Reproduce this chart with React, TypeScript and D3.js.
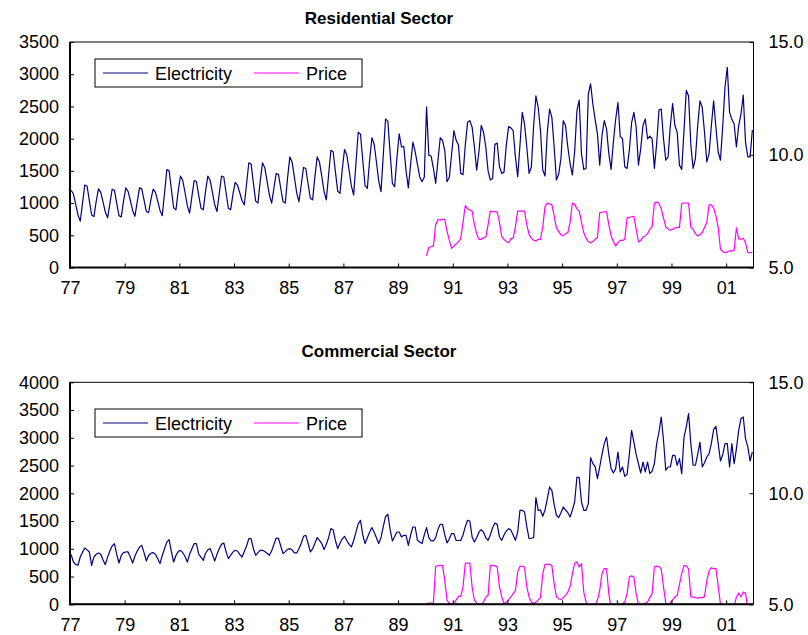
import React, { useEffect, useRef } from "react";
import * as d3 from "d3";

// x axis: monthly categories Jan 1977 .. Dec 2001, labelled every 2 years
const tickLabels = ["77", "79", "81", "83", "85", "87", "89", "91", "93", "95", "97", "99", "01"];
const resLeftTicks = [0, 500, 1000, 1500, 2000, 2500, 3000, 3500];
const comLeftTicks = [0, 500, 1000, 1500, 2000, 2500, 3000, 3500, 4000];
const priceTicks = [5, 10, 15];
const seriesNames = ["Electricity", "Price"];

// Residential electricity, Jan..Dec per row, 1977-2001
const resElectricity = [
    1200, 1140, 985, 815, 720, 1000, 1280, 1265, 1035, 815, 790, 1025, // 77
    1220, 1165, 1020, 860, 770, 990, 1215, 1200, 1000, 805, 785, 1030, // 78
    1235, 1180, 1040, 885, 795, 1015, 1236, 1220, 1045, 870, 850, 1050, // 79
    1215, 1165, 1030, 885, 805, 1160, 1520, 1500, 1210, 925, 895, 1185, // 80
    1420, 1350, 1160, 960, 845, 1100, 1350, 1335, 1120, 920, 895, 1185, // 81
    1420, 1355, 1170, 980, 870, 1145, 1420, 1405, 1160, 920, 895, 1130, // 82
    1320, 1280, 1160, 1040, 970, 1300, 1625, 1605, 1310, 1030, 1000, 1345, // 83
    1625, 1550, 1340, 1125, 1000, 1230, 1460, 1445, 1230, 1025, 1000, 1395, // 84
    1717, 1635, 1400, 1160, 1020, 1285, 1553, 1537, 1300, 1075, 1050, 1415, // 85
    1717, 1637, 1417, 1183, 1050, 1435, 1820, 1797, 1485, 1185, 1150, 1525, // 86
    1830, 1745, 1513, 1266, 1125, 1612, 2100, 2070, 1664, 1272, 1228, 1660, // 87
    2014, 1914, 1637, 1344, 1177, 1741, 2306, 2272, 1780, 1305, 1253, 1706, // 88
    2076, 1870, 1880, 1500, 1235, 1600, 1946, 1800, 1600, 1405, 1332, 1400, // 89
    2494, 1740, 1730, 1540, 1307, 1660, 2014, 1973, 1819, 1332, 1400, 1760, // 90
    2126, 1973, 1900, 1461, 1440, 1900, 2253, 2279, 2177, 1870, 1512, 1800, // 91
    2203, 2100, 1870, 1500, 1358, 1380, 1911, 1932, 1563, 1461, 1480, 1900, // 92
    2187, 2167, 2126, 1717, 1409, 1900, 2407, 2228, 1870, 1461, 1560, 2200, // 93
    2663, 2484, 2126, 1512, 1420, 2100, 2459, 2330, 1870, 1358, 1450, 1700, // 94
    2279, 2203, 1870, 1614, 1435, 1800, 2433, 2597, 1768, 1523, 1537, 2689, // 95
    2852, 2536, 2300, 2075, 1589, 2049, 2279, 2152, 1768, 1523, 1947, 2300, // 96
    2561, 2034, 1998, 1563, 1537, 1819, 2250, 2407, 2177, 1589, 1845, 2203, // 97
    2305, 1998, 2040, 1998, 1538, 1922, 2443, 2459, 2000, 1665, 1717, 2200, // 98
    2545, 2203, 2100, 1589, 1523, 2126, 2750, 2663, 1900, 1538, 1691, 2200, // 99
    2587, 2484, 2100, 1640, 1768, 2200, 2587, 2177, 1793, 1665, 2200, 2801, // 00
    3108, 2407, 2300, 2228, 1870, 2203, 2382, 2674, 1947, 1717, 1717, 2136, // 01
];

// Residential price, Jan 1990 .. Dec 2001
const resPrice = [
    5.52, 5.89, 5.92, 5.96, 6.9, 7.13, 7.1, 7.15, 7.12, 6.6, 6.2, 5.85, // 90
    5.95, 6.05, 6.15, 6.28, 7.0, 7.74, 7.6, 7.55, 7.5, 6.9, 6.5, 6.25, // 91
    6.25, 6.33, 6.35, 6.9, 7.5, 7.48, 7.48, 7.47, 7.0, 6.37, 6.25, 6.15, // 92
    6.1, 6.28, 6.3, 6.8, 7.5, 7.5, 7.5, 7.5, 6.9, 6.47, 6.3, 6.2, // 93
    6.18, 6.25, 6.25, 6.8, 7.7, 7.86, 7.82, 7.79, 7.3, 6.76, 6.6, 6.45, // 94
    6.4, 6.5, 6.55, 7.0, 7.86, 7.8, 7.6, 7.5, 7.0, 6.55, 6.3, 6.15, // 95
    6.1, 6.15, 6.25, 6.33, 7.43, 7.45, 7.47, 7.47, 6.9, 6.4, 6.15, 5.96, // 96
    6.1, 6.2, 6.2, 6.25, 7.2, 7.22, 7.25, 7.27, 6.7, 6.13, 6.2, 6.35, // 97
    6.4, 6.5, 6.7, 6.8, 7.86, 7.9, 7.85, 7.6, 7.2, 6.8, 6.7, 6.65, // 98
    6.7, 6.75, 6.78, 6.78, 7.83, 7.86, 7.86, 7.86, 6.78, 6.7, 6.5, 6.4, // 99
    6.45, 6.55, 6.78, 7.0, 7.78, 7.78, 7.63, 7.3, 6.78, 5.81, 5.7, 5.66, // 00
    5.7, 5.74, 5.74, 5.76, 6.76, 6.27, 6.25, 6.3, 6.1, 5.66, 5.66, 5.66, // 01
];

// Commercial electricity, Jan..Dec per row, 1977-2001
const comElectricity = [
    896, 762, 720, 703, 852, 940, 1015, 980, 943, 703, 852, 900, // 77
    925, 900, 800, 715, 850, 960, 1050, 1094, 900, 744, 880, 930, // 78
    943, 943, 850, 744, 870, 960, 1030, 1063, 930, 780, 880, 920, // 79
    932, 900, 820, 733, 880, 1000, 1120, 1166, 950, 762, 880, 950, // 80
    973, 930, 860, 762, 900, 1000, 1094, 1094, 900, 850, 793, 920, // 81
    980, 1004, 900, 780, 900, 1000, 1080, 1105, 950, 823, 880, 940, // 82
    973, 960, 900, 852, 950, 1050, 1184, 1184, 1000, 883, 930, 973, // 83
    973, 950, 920, 883, 960, 1080, 1195, 1190, 1050, 913, 950, 990, // 84
    1004, 980, 925, 925, 1000, 1100, 1225, 1243, 1100, 943, 1000, 1100, // 85
    1202, 1150, 1094, 985, 1080, 1200, 1364, 1340, 1150, 1004, 1100, 1180, // 86
    1225, 1150, 1080, 1033, 1150, 1300, 1450, 1514, 1250, 1094, 1200, 1300, // 87
    1382, 1300, 1200, 1094, 1200, 1400, 1580, 1622, 1350, 1141, 1220, 1303, // 88
    1303, 1213, 1243, 1243, 1063, 1250, 1393, 1393, 1153, 1123, 1094, 1250, // 89
    1382, 1201, 1141, 1141, 1200, 1350, 1442, 1442, 1250, 1105, 1180, 1274, // 90
    1274, 1150, 1150, 1150, 1250, 1400, 1514, 1500, 1213, 1123, 1200, 1300, // 91
    1346, 1300, 1200, 1153, 1250, 1380, 1465, 1440, 1213, 1153, 1250, 1320, // 92
    1364, 1340, 1250, 1153, 1300, 1694, 1694, 1663, 1400, 1184, 1190, 1201, // 93
    1923, 1694, 1700, 1586, 1700, 1900, 2114, 2054, 1800, 1604, 1562, 1650, // 94
    1753, 1700, 1650, 1573, 1700, 1843, 2294, 2282, 1843, 1694, 1694, 1814, // 95
    2643, 2535, 2480, 2264, 2474, 2700, 2895, 3014, 2700, 2445, 2366, 2445, // 96
    2744, 2384, 2474, 2306, 2343, 2700, 3135, 2924, 2700, 2535, 2366, 2564, // 97
    2384, 2564, 2355, 2400, 2535, 2895, 3100, 3375, 2955, 2415, 2474, 2474, // 98
    2685, 2685, 2505, 2625, 2355, 3014, 3200, 3435, 2895, 2505, 2505, 2700, // 99
    2924, 2474, 2550, 2654, 2714, 2900, 3147, 3207, 2900, 2582, 2700, 2895, // 00
    2895, 2474, 2895, 2535, 2800, 3135, 3345, 3375, 2985, 2835, 2582, 2744, // 01
];

// Commercial price, Jan 1990 .. Dec 2001 (values under 5 get clipped by the plot)
const comPrice = [
    5.03, 5.05, 5.05, 5.03, 6.71, 6.73, 6.75, 6.75, 6.08, 5.18, 5.03, 5.0, // 90
    5.05, 5.2, 5.36, 5.36, 5.78, 6.86, 6.85, 6.86, 5.78, 5.18, 5.05, 5.0, // 91
    5.0, 5.1, 5.33, 5.4, 6.76, 6.75, 6.73, 6.7, 5.78, 5.33, 5.03, 5.1, // 92
    5.2, 5.33, 5.48, 5.6, 6.46, 6.71, 6.71, 6.68, 5.78, 5.33, 5.1, 5.03, // 93
    5.1, 5.2, 5.3, 6.38, 6.8, 6.8, 6.8, 6.75, 5.93, 5.33, 5.25, 5.21, // 94
    5.3, 5.4, 5.55, 5.8, 6.38, 6.86, 6.9, 6.68, 6.83, 5.55, 5.1, 4.9, // 95
    4.9, 4.88, 4.9, 5.2, 5.63, 6.38, 6.61, 6.61, 5.48, 4.8, 4.7, 4.75, // 96
    4.8, 4.9, 5.03, 5.1, 5.48, 6.23, 6.28, 6.23, 5.48, 5.0, 4.95, 5.0, // 97
    5.05, 5.1, 5.3, 5.48, 6.68, 6.72, 6.7, 6.6, 5.78, 5.05, 5.0, 5.05, // 98
    5.2, 5.33, 5.4, 5.9, 6.38, 6.75, 6.72, 6.6, 5.33, 5.33, 5.3, 5.28, // 99
    5.3, 5.3, 5.35, 6.05, 6.5, 6.65, 6.6, 6.62, 5.83, 5.0, 4.8, 4.7, // 00
    4.7, 4.7, 4.75, 4.9, 5.33, 5.51, 5.33, 5.55, 5.5, 4.8, 4.7, 4.7, // 01
];

const PRICE_START = 156; // Jan 1990 = month index 156
const N_MONTHS = 300;

const FONT = "'Liberation Sans', Arial, Helvetica, sans-serif";
const ELEC_COLOR = "#000080";
const PRICE_COLOR = "#FF00FF";

const plotLeft = 70;
const plotRight = 753.5;

function drawPanel(svg, p) {
    const x = d3.scaleLinear().domain([0, N_MONTHS]).range([plotLeft, plotRight]);
    const y = d3.scaleLinear().domain([0, p.yMax]).range([p.bottom, p.top]);
    const y2 = d3.scaleLinear().domain([5, 15]).range([p.bottom, p.top]);

    const g = svg.append("g");

    // title
    g.append("text")
        .attr("x", 379)
        .attr("y", p.titleY)
        .attr("text-anchor", "middle")
        .attr("font-weight", "bold")
        .attr("font-size", 17)
        .text(p.title);

    // clip for the lines
    const clipId = "clip-" + p.id;
    svg.append("clipPath").attr("id", clipId)
        .append("rect")
        .attr("x", plotLeft)
        .attr("y", p.top)
        .attr("width", plotRight - plotLeft)
        .attr("height", p.bottom - p.top);

    const elecLine = d3.line().x((d, i) => x(i + 0.5)).y((d) => y(d));
    const priceLine = d3.line().x((d, i) => x(i + PRICE_START + 0.5)).y((d) => y2(d));

    g.append("path")
        .datum(p.elec)
        .attr("d", elecLine)
        .attr("fill", "none")
        .attr("stroke", ELEC_COLOR)
        .attr("stroke-width", 1.2)
        .attr("stroke-linejoin", "round")
        .attr("clip-path", `url(#${clipId})`);

    g.append("path")
        .datum(p.price)
        .attr("d", priceLine)
        .attr("fill", "none")
        .attr("stroke", PRICE_COLOR)
        .attr("stroke-width", 1.2)
        .attr("stroke-linejoin", "round")
        .attr("clip-path", `url(#${clipId})`);

    // frame: thin top/right, heavier left/bottom
    g.append("rect")
        .attr("x", plotLeft)
        .attr("y", p.top)
        .attr("width", plotRight - plotLeft)
        .attr("height", p.bottom - p.top)
        .attr("fill", "none")
        .attr("stroke", "#000")
        .attr("stroke-width", 1);

    // Axis
    const leftAxis = d3.axisLeft(y).tickValues(p.leftTicks).tickSizeInner(-4).tickSizeOuter(0)
        .tickPadding(11).tickFormat(d3.format("d"));
    const rightAxis = d3.axisRight(y2).tickValues(priceTicks).tickSizeInner(-4).tickSizeOuter(0)
        .tickPadding(15).tickFormat(d3.format(".1f"));
    const bottomAxis = d3.axisBottom(x).tickValues(d3.range(0, N_MONTHS, 24))
        .tickSizeInner(-4).tickSizeOuter(0).tickPadding(14)
        .tickFormat((d, i) => tickLabels[i]);

    const ga = g.append("g").attr("transform", `translate(${plotLeft},0)`).call(leftAxis);
    const gr = g.append("g").attr("transform", `translate(${plotRight},0)`).call(rightAxis);
    const gb = g.append("g").attr("transform", `translate(0,${p.bottom})`).call(bottomAxis);

    [ga, gr, gb].forEach((a) => {
        a.attr("font-family", FONT).attr("font-size", 18);
        a.select(".domain").remove();
        a.selectAll(".tick line").attr("stroke", "#000").attr("stroke-width", 1);
        a.selectAll("text").attr("fill", "#000");
    });

    g.append("line").attr("x1", plotLeft).attr("x2", plotLeft).attr("y1", p.top).attr("y2", p.bottom + 1)
        .attr("stroke", "#000").attr("stroke-width", 2);
    g.append("line").attr("x1", plotLeft - 1).attr("x2", plotRight).attr("y1", p.bottom).attr("y2", p.bottom)
        .attr("stroke", "#000").attr("stroke-width", 2);

    // Legend
    const lg = g.append("g").attr("transform", `translate(95,${p.legendTop})`);
    lg.append("rect").attr("x", 0).attr("y", 0).attr("width", 267).attr("height", 28)
        .attr("fill", "#fff").attr("stroke", "#000").attr("stroke-width", 1);
    const items = [
        { name: seriesNames[0], color: ELEC_COLOR, x0: 8 },
        { name: seriesNames[1], color: PRICE_COLOR, x0: 159 },
    ];
    items.forEach((it) => {
        lg.append("line").attr("x1", it.x0).attr("x2", it.x0 + 45).attr("y1", 14).attr("y2", 14)
            .attr("stroke", it.color).attr("stroke-width", 1.2);
        lg.append("text").attr("x", it.x0 + 52).attr("y", 20.5)
            .attr("font-size", 18).text(it.name);
    });
}

const App = () => {
    const svgRef = useRef(null);

    useEffect(() => {
        const svg = d3.select(svgRef.current);
        svg.selectAll("*").remove();

        drawPanel(svg, {
            id: "res",
            title: "Residential Sector",
            titleY: 24,
            top: 42,
            bottom: 267.5,
            yMax: 3500,
            leftTicks: resLeftTicks,
            elec: resElectricity,
            price: resPrice,
            legendTop: 59,
        });

        drawPanel(svg, {
            id: "com",
            title: "Commercial Sector",
            titleY: 357,
            top: 382.3,
            bottom: 604.3,
            yMax: 4000,
            leftTicks: comLeftTicks,
            elec: comElectricity,
            price: comPrice,
            legendTop: 409,
        });
    }, []);

    return (
        <svg
            ref={svgRef}
            width={808}
            height={635}
            style={{ position: "absolute", left: 0, top: 0, background: "#fff" }}
            fontFamily={FONT}
        ></svg>
    );
};

export default App;
